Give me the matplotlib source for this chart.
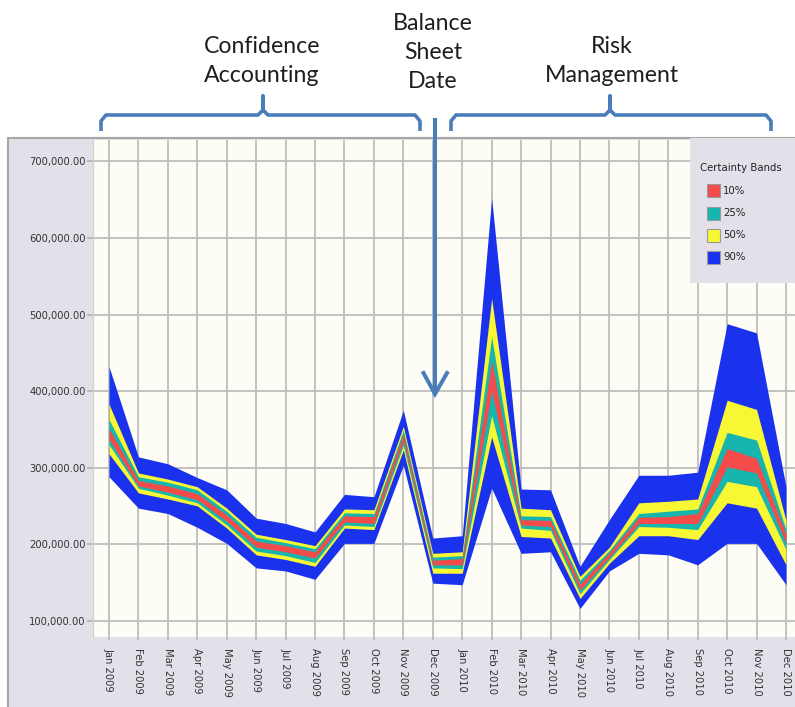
import numpy as np
import matplotlib
matplotlib.use("Agg")
import matplotlib.pyplot as plt
from matplotlib.patches import Rectangle
from matplotlib.lines import Line2D

# months on the x axis
months = ["Jan 2009", "Feb 2009", "Mar 2009", "Apr 2009", "May 2009", "Jun 2009",
          "Jul 2009", "Aug 2009", "Sep 2009", "Oct 2009", "Nov 2009", "Dec 2009",
          "Jan 2010", "Feb 2010", "Mar 2010", "Apr 2010", "May 2010", "Jun 2010",
          "Jul 2010", "Aug 2010", "Sep 2010", "Oct 2010", "Nov 2010", "Dec 2010"]

# band limits, in thousands
p90_hi = [432, 314, 305, 287, 271, 234, 227, 216, 265, 262, 375, 208,
          211, 652, 272, 271, 171, 232, 290, 290, 294, 488, 476, 275]
p50_hi = [383, 293, 285, 275, 247, 213, 206, 198, 246, 245, 354, 188,
          190, 521, 247, 245, 158, 196, 254, 256, 259, 388, 376, 231]
p25_hi = [363, 288, 281, 271, 243, 209, 202, 194, 241, 240, 349, 183,
          185, 471, 237, 236, 153, 192, 240, 243, 246, 346, 336, 219]
p10_hi = [351, 283, 276, 266, 238, 204, 198, 190, 237, 236, 344, 179,
          181, 440, 232, 231, 148, 189, 235, 236, 240, 325, 312, 213]
p10_lo = [337, 276, 268, 258, 230, 196, 190, 182, 229, 227, 335, 173,
          173, 400, 225, 223, 140, 183, 227, 227, 227, 301, 293, 201]
p25_lo = [330, 273, 264, 254, 225, 191, 185, 176, 225, 223, 329, 169,
          168, 368, 221, 218, 135, 180, 223, 222, 219, 282, 275, 193]
p50_lo = [318, 267, 259, 250, 221, 186, 180, 171, 221, 219, 323, 162,
          162, 340, 210, 208, 129, 175, 211, 211, 206, 254, 247, 173]
p90_lo = [288, 247, 240, 222, 201, 169, 165, 154, 201, 201, 303, 149,
          147, 273, 188, 190, 116, 165, 188, 186, 173, 201, 201, 147]

band_labels = ["10%", "25%", "50%", "90%"]
band_colors = ["#F44B4B", "#17B5AE", "#F7F734", "#1A31EE"]
band_lows = [p10_lo, p25_lo, p50_lo, p90_lo]
band_highs = [p10_hi, p25_hi, p50_hi, p90_hi]

y_ticks = [100000, 200000, 300000, 400000, 500000, 600000, 700000]

W, H = 795, 707
LAVENDER = "#E4E0E9"
ARROW_BLUE = "#4A7EBB"


def fx(px):
    return px / W


def fy(py):
    return 1 - py / H


fig = plt.figure(figsize=(W / 100, H / 100), dpi=100)

# grey chart panel behind the plot
fig.patches.append(Rectangle((fx(8), -0.05), 1.2, fy(138) + 0.05, transform=fig.transFigure,
                             facecolor=LAVENDER, edgecolor="#A6A6A6", lw=1.5, zorder=-5))

ax = fig.add_axes([fx(93.3), fy(637.3), 1 - fx(93.3), fy(140) - fy(637.3)])
ax.set_zorder(1)
ax.set_facecolor("#FDFDF6")

x = np.arange(len(months))
# widest band first so the narrow ones sit on top
for lab, col, lo, hi in reversed(list(zip(band_labels, band_colors, band_lows, band_highs))):
    ax.fill_between(x, np.array(lo) * 1000, np.array(hi) * 1000, color=col, lw=0, label=lab)

ax.set_xlim(-0.533, len(months) - 1 + 0.306)
ax.set_ylim(78300, 728000)
ax.set_xticks(x)
ax.set_xticklabels(months, rotation=270, fontsize=7.2, color="#333333")
ax.set_yticks(y_ticks)
ax.set_yticklabels([f"{v:,.2f}" for v in y_ticks], fontsize=7.2, color="#333333")
ax.tick_params(axis="y", length=4, width=1.2, color="#B5B5B5", pad=1.5)
ax.tick_params(axis="x", length=2, width=1.2, color="#B5B5B5", pad=6)
ax.grid(True, color="#BDBDBD", lw=1.3)
ax.set_axisbelow(True)
for side in ["top", "right", "bottom"]:
    ax.spines[side].set_visible(False)
ax.spines["left"].set_color("#CFCFCF")

# legend box, top right
fig.patches.append(Rectangle((fx(690), fy(283)), 1.0, fy(138) - fy(283), transform=fig.transFigure,
                             facecolor=LAVENDER, edgecolor="none", zorder=5))
fig.text(fx(700), fy(168), "Certainty Bands", fontsize=7.3, color="#222222",
         va="center", ha="left", zorder=6)
for i, (lab, col) in enumerate(zip(band_labels, band_colors)):
    yc = 191 + i * 22
    fig.patches.append(Rectangle((fx(707), fy(yc + 6.5)), 13 / W, 13 / H, transform=fig.transFigure,
                                 facecolor=col, edgecolor="#9A9A9A", lw=0.8, zorder=6))
    fig.text(fx(723), fy(yc), lab, fontsize=7.3, color="#222222", va="center", ha="left", zorder=6)

# annotations above the chart
font = dict(family=["Lato", "DejaVu Sans"], fontsize=16.7, color="#1E1E1E",
            ha="center", va="center", linespacing=1.5)
fig.text(fx(262), fy(61), "Confidence\nAccounting", **font)
fig.text(fx(433), fy(52.5), "Balance\nSheet\nDate", **font)
fig.text(fx(612), fy(61), "Risk\nManagement", **font)


def bracket(x0, x1, xm):
    pts = [(x0, 131), (x0, 121), (x0 + 5, 115), (xm - 5, 115), (xm, 110), (xm, 96),
           (xm, 110), (xm + 5, 115), (x1 - 5, 115), (x1, 121), (x1, 131)]
    fig.add_artist(Line2D([fx(p[0]) for p in pts], [fy(p[1]) for p in pts],
                          transform=fig.transFigure, color=ARROW_BLUE, lw=2.6,
                          solid_joinstyle="round", solid_capstyle="butt"))


bracket(101, 420, 263)
bracket(451, 771, 610)

# arrow pointing at the balance sheet date
fig.add_artist(Line2D([fx(435), fx(435)], [fy(120), fy(393)], transform=fig.transFigure,
                      color=ARROW_BLUE, lw=2.9, zorder=10))
fig.add_artist(Line2D([fx(423.5), fx(435), fx(447)], [fy(373), fy(394), fy(373)],
                      transform=fig.transFigure, color=ARROW_BLUE, lw=2.9,
                      solid_joinstyle="miter", zorder=10))

fig.savefig("out.png", dpi=100, facecolor="white")
